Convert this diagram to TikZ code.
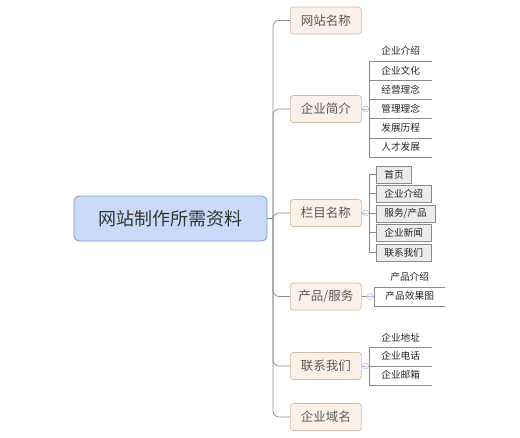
\documentclass[tikz,border=0pt]{standalone}
\usepackage{fontspec}
\setmainfont{Noto Sans CJK SC}
\definecolor{linec}{HTML}{8C8C8C}
\definecolor{rootfill}{HTML}{C9DBF8}
\definecolor{rootdraw}{HTML}{7F98C8}
\definecolor{topfill}{HTML}{FCF1E8}
\definecolor{topdraw}{HTML}{CDBBA8}
\definecolor{boxfill}{HTML}{ECECEC}
\definecolor{boxdraw}{HTML}{8A8A8A}
\definecolor{knob}{HTML}{A9C0E0}
\begin{document}
\begin{tikzpicture}[x=1pt,y=-1pt,
  root/.style={draw=rootdraw,fill=rootfill,line width=0.8pt,rounded corners=5pt,
    minimum width=193pt,minimum height=45pt,inner sep=0pt,text=black!80,
    font=\fontsize{18}{21}\selectfont},
  topic/.style={draw=topdraw,fill=topfill,line width=0.7pt,rounded corners=3pt,
    minimum width=71pt,minimum height=27pt,inner xsep=8pt,inner ysep=0pt,text=black!65,
    anchor=west,font=\fontsize{12.5}{15}\selectfont},
  leaf/.style={minimum height=19.2pt,inner sep=0pt,anchor=south west,text=black!85,
    font=\fontsize{9.7}{11}\selectfont},
  boxleaf/.style={draw=boxdraw,fill=boxfill,line width=0.6pt,minimum height=17pt,
    inner xsep=8pt,inner ysep=0pt,anchor=west,text=black!85,font=\fontsize{9.7}{11}\selectfont},
  conn/.style={draw=linec,line width=0.7pt},
  knobst/.style={circle,draw=knob,fill=white,line width=0.5pt,minimum size=6pt,inner sep=0pt}
]
\useasboundingbox (0,0) rectangle (520,437);

% root
\node[root] (c) at (170.5,218.5) {网站制作所需资料};
\coordinate (t) at (273,218.5);

% level 1
\node[topic] (a1) at (290,20.5) {网站名称};
\node[topic] (a2) at (290,109) {企业简介};
\node[topic] (a3) at (290,213) {栏目名称};
\node[topic] (a4) at (290,296.5) {产品/服务};
\node[topic] (a5) at (290,366) {联系我们};
\node[topic] (a6) at (290,417) {企业域名};

\draw[conn] (c.east) -- (t);
\foreach \n in {a1,a2,a3,a4,a5,a6}{
  \draw[conn,rounded corners=6pt] (t) |- (\n.west);
}

% 企业简介 children
\node[leaf,minimum width=63pt] (b1) at (369,61) {企业介绍};
\node[leaf,minimum width=63pt] (b2) at (369,80.2) {企业文化};
\node[leaf,minimum width=63pt] (b3) at (369,99.4) {经营理念};
\node[leaf,minimum width=63pt] (b4) at (369,118.6) {管理理念};
\node[leaf,minimum width=63pt] (b5) at (369,137.8) {发展历程};
\node[leaf,minimum width=63pt] (b6) at (369,157) {人才发展};
\foreach \n in {b1,b2,b3,b4,b5,b6}{
  \draw[conn,line width=0.6pt] (\n.south west) -- (\n.south east);
}
\draw[conn,line width=0.6pt] (b1.south west) -- (b6.south west);
\draw[conn,line width=0.6pt] (a2.east) -- (a2.east -| b1.west);
\node[knobst] (k2) at (365.5,109) {};
\draw[knob,line width=0.5pt] (k2.west) ++(1.2,0) -- ++(3.6,0);

% 栏目名称 children
\coordinate (bx) at (369,174.5);
\node[boxleaf] (d1) at (376,174.5) {首页};
\node[boxleaf] (d2) at (376,193.5) {企业介绍};
\node[boxleaf] (d3) at (376,213.5) {服务/产品};
\node[boxleaf] (d4) at (376,232.5) {企业新闻};
\node[boxleaf] (d5) at (376,252.5) {联系我们};
\draw[conn,line width=0.6pt] (bx) -- (bx |- d5.west);
\foreach \n in {d1,d2,d3,d4,d5}{
  \draw[conn,line width=0.6pt] (bx |- \n.west) -- (\n.west);
}
\draw[conn,line width=0.6pt] (a3.east) -- (a3.east -| bx);
\node[knobst] (k3) at (365.5,213) {};
\draw[knob,line width=0.5pt] (k3.west) ++(1.2,0) -- ++(3.6,0);

% 产品/服务 children
\node[leaf,minimum width=71pt] (e1) at (374,287) {产品介绍};
\node[leaf,minimum width=71pt] (e2) at (374,306) {产品效果图};
\foreach \n in {e1,e2}{
  \draw[conn,line width=0.6pt] (\n.south west) -- (\n.south east);
}
\draw[conn,line width=0.6pt] (e1.south west) -- (e2.south west);
\draw[conn,line width=0.6pt] (a4.east) -- (a4.east -| e1.west);
\node[knobst] (k4) at (370,296.5) {};
\draw[knob,line width=0.5pt] (k4.west) ++(1.2,0) -- ++(3.6,0);

% 联系我们 children
\node[leaf,minimum width=63pt] (f1) at (369,347) {企业地址};
\node[leaf,minimum width=63pt] (f2) at (369,366) {企业电话};
\node[leaf,minimum width=63pt] (f3) at (369,385) {企业邮箱};
\foreach \n in {f1,f2,f3}{
  \draw[conn,line width=0.6pt] (\n.south west) -- (\n.south east);
}
\draw[conn,line width=0.6pt] (f1.south west) -- (f3.south west);
\draw[conn,line width=0.6pt] (a5.east) -- (a5.east -| f1.west);
\node[knobst] (k5) at (365.5,366) {};
\draw[knob,line width=0.5pt] (k5.west) ++(1.2,0) -- ++(3.6,0);
\end{tikzpicture}
\end{document}
